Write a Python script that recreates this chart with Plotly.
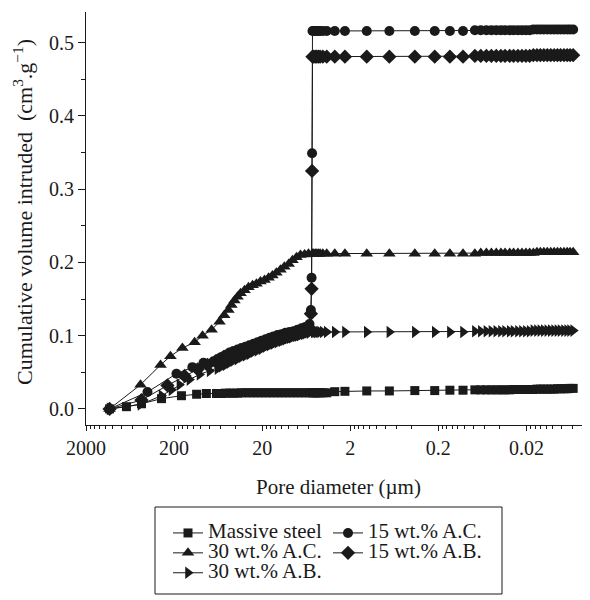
import math
import plotly.graph_objects as go

# ---------------- data (pore diameter in µm, cumulative volume in cm3/g) -------------
# shared high-pressure diameters (after the step at ~5.4 µm)
d_high = [5.2, 5.0, 4.8, 4.6, 4.4, 4.1, 3.7, 3.0, 2.3, 1.3, 0.72, 0.37, 0.22, 0.148, 0.105,
          0.077, 0.066, 0.057, 0.050, 0.044, 0.039, 0.035, 0.031, 0.028, 0.025,
          0.0225, 0.0203, 0.0184, 0.0167, 0.0152, 0.0139, 0.0127, 0.0116, 0.0106, 0.0097,
          0.0089, 0.0082, 0.0075, 0.0069, 0.0064, 0.0059]

# Massive steel
steel_d_low = [1080, 695, 469, 278, 165, 111, 86, 66, 57.9, 52.2, 47.0, 42.4, 38.1, 34.4, 30.9,
               27.9, 25.1, 22.6, 20.4, 18.3, 16.5, 14.9, 13.4, 12.1, 10.9, 9.8, 8.83, 7.95, 7.16,
               6.45, 5.81, 5.37]
steel_v_low = [0.000, 0.003, 0.007, 0.014, 0.018, 0.020, 0.021, 0.021, 0.021, 0.0215, 0.0215,
               0.0215, 0.0215, 0.022, 0.022, 0.022, 0.022, 0.022, 0.022, 0.022, 0.022, 0.022,
               0.022, 0.022, 0.022, 0.022, 0.022, 0.022, 0.022, 0.022, 0.022, 0.022]
steel_v_high = [0.022, 0.022, 0.022, 0.022, 0.022, 0.022, 0.022, 0.0235, 0.024, 0.0245, 0.0245,
                0.025, 0.025, 0.0255, 0.0255, 0.026, 0.026, 0.026, 0.026, 0.026, 0.026, 0.026,
                0.026, 0.0265, 0.0265, 0.0265, 0.0265, 0.0265, 0.0265, 0.027, 0.027, 0.027,
                0.027, 0.027, 0.027, 0.0275, 0.0275, 0.0275, 0.0275, 0.028, 0.028]

# 30 wt.% A.C.
ac30_d_low = [1080, 481, 285, 220, 161, 117, 95, 75, 61, 54, 48.3, 44.7, 41.3, 38.1, 35.2, 31.7,
              28.6, 25.7, 23.2, 20.9, 18.8, 16.9, 15.3, 13.8, 12.4, 11.2, 10.0, 9.06, 8.15, 7.35,
              6.6, 5.96, 5.37]
ac30_v_low = [0.000, 0.033, 0.060, 0.072, 0.083, 0.091, 0.100, 0.108, 0.119, 0.128, 0.135, 0.142,
              0.148, 0.153, 0.158, 0.162, 0.166, 0.169, 0.171, 0.174, 0.176, 0.179, 0.182, 0.186,
              0.190, 0.194, 0.198, 0.203, 0.207, 0.210, 0.211, 0.212, 0.212]
ac30_v_high = [0.212, 0.212, 0.212, 0.212, 0.212, 0.212, 0.212, 0.212, 0.212, 0.212, 0.212, 0.212,
               0.212, 0.212, 0.212, 0.212, 0.213, 0.213, 0.213, 0.213, 0.213, 0.213, 0.213, 0.213,
               0.213, 0.213, 0.213, 0.213, 0.213, 0.214, 0.214, 0.214, 0.214, 0.214, 0.214, 0.214,
               0.214, 0.214, 0.214, 0.214, 0.214]

# 30 wt.% A.B.
ab30_d_low = [1080, 481, 278, 214, 174, 134, 103, 79, 64.3, 57.9, 52.2, 47.0, 42.4, 38.1, 34.4,
              30.9, 27.9, 25.1, 22.6, 20.4, 18.3, 16.5, 14.9, 13.4, 12.1, 10.9, 9.8, 8.83, 7.95,
              7.16, 6.45, 5.81]
ab30_v_low = [0.000, 0.006, 0.018, 0.026, 0.033, 0.040, 0.047, 0.052, 0.055, 0.058, 0.060, 0.063,
              0.066, 0.068, 0.071, 0.073, 0.075, 0.078, 0.080, 0.082, 0.085, 0.087, 0.089, 0.091,
              0.093, 0.095, 0.097, 0.099, 0.100, 0.102, 0.103, 0.104]
ab30_v_high = [0.105, 0.105, 0.105, 0.105, 0.105, 0.105, 0.105, 0.105, 0.105, 0.105, 0.105, 0.105,
               0.105, 0.105, 0.105, 0.106, 0.106, 0.106, 0.106, 0.106, 0.106, 0.106, 0.106, 0.106,
               0.106, 0.106, 0.106, 0.106, 0.107, 0.107, 0.107, 0.107, 0.107, 0.107, 0.107, 0.107,
               0.107, 0.107, 0.107, 0.107, 0.107]

# 15 wt.% A.C.
ac15_d_low = [1080, 401, 188, 124, 92.7, 71.4, 64.3, 57.9, 52.2, 47.0, 42.4, 38.1, 34.4, 30.9,
              27.9, 25.1, 22.6, 20.4, 18.3, 16.5, 14.9, 13.4, 12.1, 10.9, 9.8, 8.83, 7.95, 7.16,
              6.45, 5.81, 5.6, 5.5, 5.43, 5.37]
ac15_v_low = [0.000, 0.023, 0.048, 0.057, 0.063, 0.065, 0.068, 0.071, 0.074, 0.077, 0.079, 0.081,
              0.083, 0.085, 0.087, 0.089, 0.091, 0.093, 0.095, 0.097, 0.099, 0.101, 0.102, 0.104,
              0.105, 0.106, 0.108, 0.110, 0.112, 0.116, 0.135, 0.179, 0.349, 0.516]
ac15_v_high = [0.516, 0.516, 0.516, 0.516, 0.516, 0.516, 0.516, 0.516, 0.516, 0.516, 0.516, 0.516,
               0.516, 0.516, 0.516, 0.517, 0.517, 0.517, 0.517, 0.517, 0.517, 0.517, 0.517, 0.517,
               0.517, 0.517, 0.517, 0.517, 0.518, 0.518, 0.518, 0.518, 0.518, 0.518, 0.518, 0.518,
               0.518, 0.518, 0.518, 0.518, 0.518]

# 15 wt.% A.B.
ab15_d_low = [1080, 469, 238, 152, 108, 83.5, 64.3, 57.9, 52.2, 47.0, 42.4, 38.1, 34.4, 30.9,
              27.9, 25.1, 22.6, 20.4, 18.3, 16.5, 14.9, 13.4, 12.1, 10.9, 9.8, 8.83, 7.95, 7.16,
              6.45, 5.81, 5.6, 5.5, 5.43, 5.37]
ab15_v_low = [0.000, 0.012, 0.032, 0.045, 0.054, 0.060, 0.062, 0.065, 0.068, 0.071, 0.073, 0.075,
              0.077, 0.079, 0.081, 0.083, 0.085, 0.087, 0.089, 0.091, 0.093, 0.095, 0.096, 0.098,
              0.099, 0.101, 0.102, 0.104, 0.106, 0.110, 0.130, 0.164, 0.325, 0.481]
ab15_v_high = [0.481, 0.481, 0.481, 0.481, 0.481, 0.481, 0.481, 0.481, 0.481, 0.481, 0.481, 0.481,
               0.481, 0.481, 0.481, 0.482, 0.482, 0.482, 0.482, 0.482, 0.482, 0.482, 0.482, 0.482,
               0.482, 0.482, 0.482, 0.482, 0.483, 0.483, 0.483, 0.483, 0.483, 0.483, 0.483, 0.483,
               0.483, 0.483, 0.483, 0.483, 0.483]

x_tick_vals = [2000, 200, 20, 2, 0.2, 0.02]
x_tick_text = ["2000", "200", "20", "2", "0.2", "0.02"]
y_tick_vals = [0.0, 0.1, 0.2, 0.3, 0.4, 0.5]
y_tick_text = ["0.0", "0.1", "0.2", "0.3", "0.4", "0.5"]
y_minor_vals = [0.05, 0.15, 0.25, 0.35, 0.45]
x_minor_vals = [m * 2 * 10 ** e for e in range(3, -4, -1) for m in (0.9, 0.8, 0.7, 0.6, 0.5, 0.4, 0.3, 0.2)]

series = [
    ("Massive steel", steel_d_low + d_high, steel_v_low + steel_v_high, "square", 9, "legend"),
    ("30 wt.% A.C.", ac30_d_low + d_high, ac30_v_low + ac30_v_high, "triangle-up", 11, "legend"),
    ("30 wt.% A.B.", ab30_d_low + d_high, ab30_v_low + ab30_v_high, "triangle-right", 11, "legend"),
    ("15 wt.% A.C.", ac15_d_low + d_high, ac15_v_low + ac15_v_high, "circle", 10, "legend2"),
    ("15 wt.% A.B.", ab15_d_low + d_high, ab15_v_low + ab15_v_high, "diamond", 11, "legend2"),
]

FONT = "Liberation Serif"
INK = "#1a1a1a"
TEXT_PX = 21

fig = go.Figure()
for name, d, v, sym, size, lg in series:
    fig.add_trace(go.Scatter(
        x=d, y=v, mode="lines+markers", legend=lg,
        name=f'<span style="font-size:{TEXT_PX}px">{name}</span>',
        line=dict(color=INK, width=1),
        marker=dict(symbol=sym, size=size, color=INK, line=dict(width=0)),
    ))

axis_common = dict(showline=True, linecolor=INK, linewidth=1, showgrid=False, zeroline=False,
                   ticks="outside", tickcolor=INK, tickwidth=1, automargin=False,
                   tickfont=dict(family=FONT, size=20, color=INK))

# page body adds an 8px offset: figure is laid out 8px smaller so it fits the window
W, H = 582, 592
L, R, T, B = 78, 0, 4, 175
pw, ph = W - L - R, H - T - B

def px_x(sx):
    return (sx - 8 - L) / pw

def px_y(sy):
    return (H - B - (sy - 8)) / ph

legend_common = dict(xref="container", yref="container", xanchor="left", yanchor="top",
                     bgcolor="rgba(0,0,0,0)", borderwidth=0, tracegroupgap=0,
                     font=dict(family=FONT, size=13, color=INK))

fig.update_layout(
    width=W, height=H,
    margin=dict(l=L, r=R, t=T, b=B, autoexpand=False),
    paper_bgcolor="white", plot_bgcolor="white",
    font=dict(family=FONT, size=20, color=INK),
    xaxis=dict(type="log", range=[math.log10(2000), math.log10(0.0038)],
               tickmode="array", tickvals=x_tick_vals, ticktext=x_tick_text, ticklen=5,
               minor=dict(tickvals=x_minor_vals, ticks="outside", ticklen=3, tickcolor=INK),
               **axis_common),
    yaxis=dict(range=[-0.022, 0.542], tickmode="array", tickvals=y_tick_vals, ticktext=y_tick_text,
               ticklen=7,
               minor=dict(tickvals=y_minor_vals, ticks="outside", ticklen=4, tickcolor=INK),
               **axis_common),
    legend=dict(x=(168 - 8) / W, y=1 - (518 - 8) / H, **legend_common),
    legend2=dict(x=(328 - 8) / W, y=1 - (518 - 8) / H, **legend_common),
    annotations=[
        dict(text="Pore diameter (µm)", xref="paper", yref="paper", x=0.5, y=px_y(487),
             xanchor="center", yanchor="middle", showarrow=False,
             font=dict(family=FONT, size=TEXT_PX, color=INK)),
        dict(text="Cumulative volume intruded  (cm<sup>3</sup>.g<sup>\u22121</sup>)",
             xref="paper", yref="paper", x=px_x(23), y=px_y(212), textangle=-90,
             xanchor="center", yanchor="middle", showarrow=False,
             font=dict(family=FONT, size=22, color=INK)),
    ],
    shapes=[dict(type="rect", xref="paper", yref="paper",
                 x0=px_x(155), x1=px_x(502), y0=px_y(507), y1=px_y(594),
                 line=dict(color=INK, width=1), fillcolor="rgba(0,0,0,0)")],
)

fig.write_html("out.html")
